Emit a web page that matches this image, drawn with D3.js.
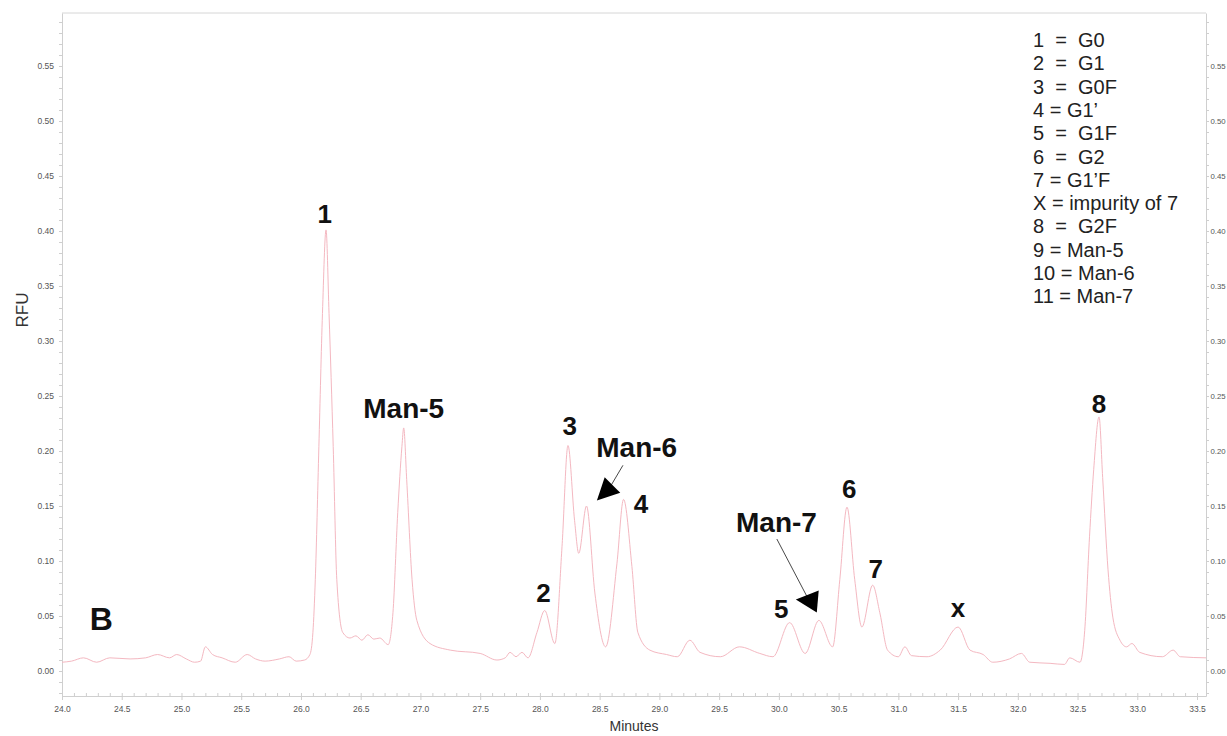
<!DOCTYPE html>
<html lang="en">
<head>
    <meta charset="UTF-8">
    <title>Glycan CE trace B</title>
    <script src="https://d3js.org/d3.v7.min.js"></script>
    <style>
        body { margin: 0; background: #fff; font-family: "Liberation Sans", Arial, sans-serif; }
        .axis path, .axis line { stroke: #cfcfcf; }
        .axis text { fill: #555; font-size: 8.5px; font-family: "Liberation Sans", Arial, sans-serif; }
        .axis.rightside text { font-size: 7.8px; }
        .minor text { display: none; }
        .peak { font-weight: bold; fill: #111; text-anchor: middle; }
        .legend text { font-size: 20px; fill: #222; white-space: pre; }
    </style>
</head>
<body>
    <script>
        // trace: [minutes, RFU]
        const trace = [
            [24.00, 0.008], [24.08, 0.009], [24.18, 0.012], [24.29, 0.008], [24.40, 0.012],
            [24.57, 0.011], [24.70, 0.012], [24.80, 0.015], [24.90, 0.012], [24.96, 0.015],
            [25.04, 0.011], [25.11, 0.008], [25.16, 0.009], [25.20, 0.022], [25.26, 0.015],
            [25.34, 0.012], [25.45, 0.008], [25.55, 0.015], [25.62, 0.011], [25.70, 0.009],
            [25.82, 0.011], [25.90, 0.013], [25.96, 0.009], [26.03, 0.010], [26.075, 0.015],
            [26.10, 0.035], [26.12, 0.083], [26.15, 0.204], [26.18, 0.325], [26.21, 0.401],
            [26.235, 0.325], [26.27, 0.204], [26.30, 0.083], [26.35, 0.035], [26.41, 0.030],
            [26.46, 0.032], [26.51, 0.028], [26.56, 0.033], [26.61, 0.029], [26.66, 0.030],
            [26.73, 0.024], [26.77, 0.053], [26.81, 0.144], [26.845, 0.204], [26.86, 0.221],
            [26.885, 0.174], [26.93, 0.083], [26.97, 0.046], [27.08, 0.025], [27.25, 0.019],
            [27.50, 0.016], [27.64, 0.010], [27.71, 0.012], [27.75, 0.017], [27.80, 0.013],
            [27.85, 0.017], [27.90, 0.012], [27.975, 0.035], [28.04, 0.055], [28.125, 0.025],
            [28.185, 0.113], [28.235, 0.205], [28.29, 0.137], [28.325, 0.107], [28.39, 0.150],
            [28.46, 0.071], [28.55, 0.022], [28.645, 0.098], [28.70, 0.156], [28.77, 0.095],
            [28.82, 0.035], [28.92, 0.019], [29.06, 0.015], [29.15, 0.013], [29.255, 0.028],
            [29.34, 0.017], [29.51, 0.013], [29.67, 0.022], [29.84, 0.016], [29.95, 0.013],
            [30.09, 0.044], [30.22, 0.016], [30.335, 0.046], [30.45, 0.022], [30.51, 0.083],
            [30.57, 0.149], [30.635, 0.083], [30.695, 0.040], [30.785, 0.078], [30.845, 0.053],
            [30.91, 0.019], [31.00, 0.013], [31.055, 0.022], [31.11, 0.014], [31.24, 0.013],
            [31.35, 0.019], [31.50, 0.040], [31.60, 0.019], [31.71, 0.015], [31.79, 0.008],
            [31.93, 0.011], [32.03, 0.016], [32.10, 0.008], [32.27, 0.007], [32.39, 0.006],
            [32.435, 0.012], [32.52, 0.008], [32.56, 0.037], [32.60, 0.122], [32.635, 0.183],
            [32.68, 0.231], [32.71, 0.176], [32.755, 0.092], [32.795, 0.049], [32.855, 0.028],
            [32.91, 0.022], [32.955, 0.025], [33.02, 0.017], [33.21, 0.013], [33.30, 0.019],
            [33.36, 0.013], [33.575, 0.012]
        ];

        const xTicks = [24.0, 24.5, 25.0, 25.5, 26.0, 26.5, 27.0, 27.5, 28.0, 28.5, 29.0,
                        29.5, 30.0, 30.5, 31.0, 31.5, 32.0, 32.5, 33.0, 33.5];
        const yTicks = [0.00, 0.05, 0.10, 0.15, 0.20, 0.25, 0.30, 0.35, 0.40, 0.45, 0.50, 0.55];

        // peak labels: text, minutes, RFU level of the baseline
        const peakNames  = ['1', 'Man-5', '2', '3', 'Man-6', '4', '5', 'Man-7', '6', '7', 'x', '8', 'B'];
        const peakTimes  = [26.20, 26.86, 28.03, 28.25, 28.81, 28.845, 30.02, 29.98, 30.59, 30.81, 31.50, 32.68, 24.33];
        const peakLevels = [0.407, 0.230, 0.063, 0.215, 0.195, 0.144, 0.048, 0.126, 0.157, 0.085, 0.049, 0.235, 0.037];

        // arrows from the Man-6 / Man-7 labels
        const arrowStart = [[28.695, 0.187], [29.983, 0.120]];
        const arrowEnd   = [[28.586, 0.167], [30.234, 0.068]];
        const arrowTip   = [[28.477, 0.155], [30.142, 0.065]];
        const arrowAngle = [135, 185];

        const legendLines = [
            '1  =  G0', '2  =  G1', '3  =  G0F', '4 = G1\u2019', '5  =  G1F', '6  =  G2',
            '7 = G1\u2019F', 'X = impurity of 7', '8  =  G2F', '9 = Man-5', '10 = Man-6', '11 = Man-7'
        ];

        const W = 1227, H = 736;
        const plot = {left: 62, right: 1206, top: 13, bottom: 696};

        const svg = d3.select('body').append('svg')
            .attr('width', W)
            .attr('height', H);

        const x = d3.scaleLinear().domain([24, 33.575]).range([plot.left, plot.right]);
        const y = d3.scaleLinear().domain([-0.0227, 0.5982]).range([plot.bottom, plot.top]);

        // frame top line
        svg.append('line')
            .attr('x1', plot.left).attr('x2', plot.right)
            .attr('y1', plot.top).attr('y2', plot.top)
            .attr('stroke', '#d6d6d6');

        // minor ticks
        svg.append('g')
            .attr('class', 'axis minor')
            .attr('transform', `translate(0,${plot.bottom})`)
            .call(d3.axisBottom(x).tickValues(d3.range(240, 336).map(d => d / 10)).tickSize(-3).tickFormat(''))
            .call(g => g.select('.domain').remove());
        svg.append('g')
            .attr('class', 'axis minor')
            .attr('transform', `translate(${plot.left},0)`)
            .call(d3.axisLeft(y).tickValues(d3.range(-2, 60).map(d => d / 100)).tickSize(3).tickFormat(''))
            .call(g => g.select('.domain').remove());
        svg.append('g')
            .attr('class', 'axis minor')
            .attr('transform', `translate(${plot.right},0)`)
            .call(d3.axisRight(y).tickValues(d3.range(-2, 60).map(d => d / 100)).tickSize(3).tickFormat(''))
            .call(g => g.select('.domain').remove());

        // main axes
        svg.append('g')
            .attr('class', 'axis')
            .attr('transform', `translate(0,${plot.bottom})`)
            .call(d3.axisBottom(x).tickValues(xTicks).tickFormat(d3.format('.1f')).tickSize(4).tickSizeOuter(0).tickPadding(6));
        svg.append('g')
            .attr('class', 'axis')
            .attr('transform', `translate(${plot.left},0)`)
            .call(d3.axisLeft(y).tickValues(yTicks).tickFormat(d3.format('.2f')).tickSize(3).tickSizeOuter(0).tickPadding(5));
        svg.append('g')
            .attr('class', 'axis rightside')
            .attr('transform', `translate(${plot.right},0)`)
            .call(d3.axisRight(y).tickValues(yTicks).tickFormat(d3.format('.2f')).tickSize(3).tickSizeOuter(0).tickPadding(1.5));

        // the trace
        const line = d3.line()
            .x(d => x(d[0]))
            .y(d => y(d[1]))
            .curve(d3.curveMonotoneX);

        svg.append('path')
            .datum(trace)
            .attr('fill', 'none')
            .attr('stroke', '#f4b8c1')
            .attr('stroke-width', 1)
            .attr('d', line);

        // peak labels
        svg.selectAll('.peak')
            .data(peakNames)
            .enter().append('text')
            .attr('class', 'peak')
            .attr('x', (d, i) => x(peakTimes[i]))
            .attr('y', (d, i) => y(peakLevels[i]))
            .style('font-size', d => d === 'B' ? '32px' : (d.length > 1 ? '28px' : '26px'))
            .text(d => d);

        // arrows
        arrowStart.forEach((s, i) => {
            svg.append('line')
                .attr('x1', x(s[0])).attr('y1', y(s[1]))
                .attr('x2', x(arrowEnd[i][0])).attr('y2', y(arrowEnd[i][1]))
                .attr('stroke', '#333')
                .attr('stroke-width', 0.9);
            const tx = x(arrowTip[i][0]), ty = y(arrowTip[i][1]);
            const a = arrowAngle[i] * Math.PI / 180;
            const len = 22, half = 11;
            const bx = tx - len * Math.cos(a), by = ty - len * Math.sin(a);
            const px = -Math.sin(a) * half, py = Math.cos(a) * half;
            svg.append('polygon')
                .attr('points', [[tx, ty], [bx + px, by + py], [bx - px, by - py]].map(p => p.join(',')).join(' '))
                .attr('fill', '#000');
        });

        // legend
        const legend = svg.append('g').attr('class', 'legend');
        legend.selectAll('text')
            .data(legendLines)
            .enter().append('text')
            .attr('x', 1033)
            .attr('y', (d, i) => 47 + i * 23.3)
            .text(d => d);

        // axis titles
        svg.append('text')
            .attr('x', (plot.left + plot.right) / 2)
            .attr('y', 731)
            .attr('text-anchor', 'middle')
            .style('font-size', '14px')
            .style('fill', '#333')
            .text('Minutes');

        svg.append('text')
            .attr('transform', `translate(28,310) rotate(-90)`)
            .attr('text-anchor', 'middle')
            .style('font-size', '17px')
            .style('fill', '#333')
            .text('RFU');
    </script>
</body>
</html>
